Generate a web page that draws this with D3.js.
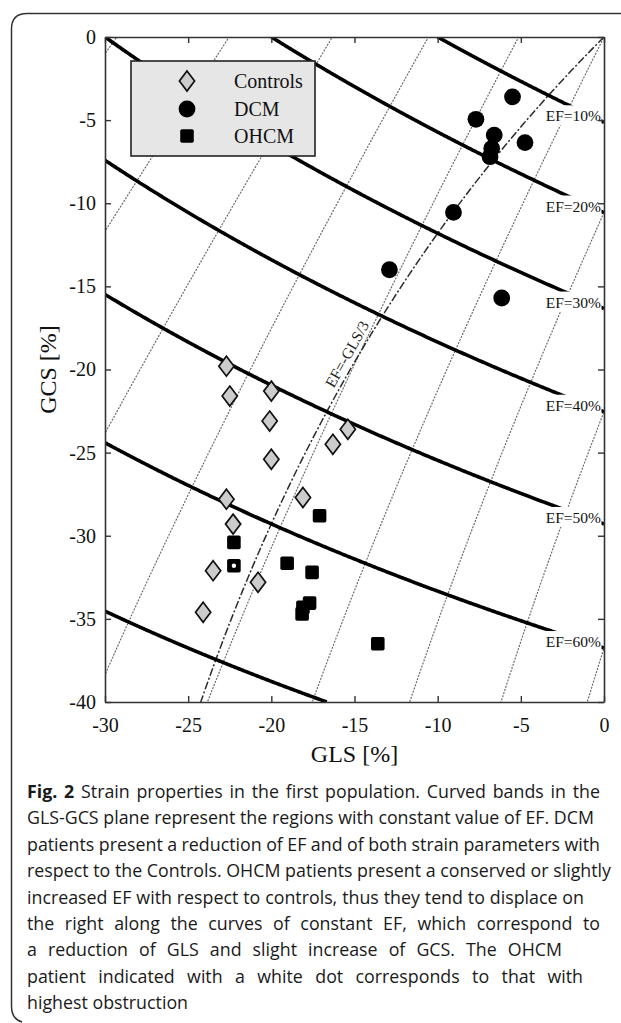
<!DOCTYPE html>
<html><head><meta charset="utf-8">
<script src="https://cdn.jsdelivr.net/npm/d3@7"></script>
<style>body{margin:0;background:#fff}svg{display:block}</style>
</head><body>
<svg id="c" width="621" height="1023"></svg>
<script>
// ---------------- data ----------------
const glsTicks = [-30, -25, -20, -15, -10, -5, 0];
const gcsTicks = [0, -5, -10, -15, -20, -25, -30, -35, -40];
const efLevels = [10, 20, 30, 40, 50, 60, 70];           // EF iso-curves (%)
const efLabelled = [10, 20, 30, 40, 50, 60];
const orthoLevels = [0, -0.2, -0.4, -0.6, -0.8, -1.0, -1.2, -1.4, -1.6]; // (1+GCS)^2-2(1+GLS)^2
const refLineFactor = 3;                                  // EF = -3*GLS
const refLineLabel = "EF=-GLS/3";

const controlsGLS = [-22.7, -22.5, -20.0, -20.1, -20.0, -15.4, -16.3, -22.7, -22.3, -23.5, -24.1, -20.8, -18.1];
const controlsGCS = [-19.8, -21.6, -21.3, -23.1, -25.4, -23.6, -24.5, -27.8, -29.3, -32.1, -34.6, -32.8, -27.7];

const dcmGLS = [-5.5, -7.7, -6.6, -4.75, -6.75, -6.85, -9.05, -12.9, -6.15];
const dcmGCS = [-3.6, -4.95, -5.9, -6.35, -6.7, -7.2, -10.55, -14.0, -15.7];

const ohcmGLS = [-17.1, -22.25, -22.25, -19.05, -17.55, -17.7, -18.1, -18.15, -13.6];
const ohcmGCS = [-28.8, -30.4, -31.8, -31.65, -32.2, -34.05, -34.3, -34.7, -36.5];
const ohcmWhiteDot = [0, 0, 1, 0, 0, 0, 0, 0, 0];

const legendLabels = ["Controls", "DCM", "OHCM"];
const xTitle = "GLS [%]";
const yTitle = "GCS [%]";

const captionBold = "Fig. 2";
const captionLines = [
  " Strain properties in the first population. Curved bands in the",
  "GLS-GCS plane represent the regions with constant value of EF. DCM",
  "patients present a reduction of EF and of both strain parameters with",
  "respect to the Controls. OHCM patients present a conserved or slightly",
  "increased EF with respect to controls, thus they tend to displace on",
  "the right along the curves of constant EF, which correspond to",
  "a reduction of GLS and slight increase of GCS. The OHCM",
  "patient indicated with a white dot corresponds to that with",
  "highest obstruction"
];

// ---------------- layout ----------------
const svg = d3.select("#c");
const serif = '"Liberation Serif","Times New Roman",serif';
const sans = '"Open Sans","Noto Sans",sans-serif';
const x = d3.scaleLinear().domain([-30, 0]).range([105, 604]);
const y = d3.scaleLinear().domain([0, -40]).range([37, 702]);
const line = d3.line().x(d => x(d[0])).y(d => y(d[1]));

// outer rounded frame (top + left side)
svg.append("path")
  .attr("d", "M621,13.5 H27 Q11.5,13.5 11.5,29 V1006 Q11.5,1019 22,1022")
  .attr("fill", "none").attr("stroke", "#333").attr("stroke-width", 1.5);

svg.append("defs").append("clipPath").attr("id", "plot").append("rect")
  .attr("x", x(-30)).attr("y", y(0))
  .attr("width", x(0) - x(-30)).attr("height", y(-40) - y(0));

const plot = svg.append("g").attr("clip-path", "url(#plot)");

// dotted orthogonal family
orthoLevels.forEach(K => {
  const pts = [];
  for (let i = 0; i <= 600; i++) {
    const L = -0.31 + 0.32 * i / 600;
    const v = K + 2 * (1 + L) * (1 + L);
    if (v < 0) continue;
    pts.push([L * 100, (Math.sqrt(v) - 1) * 100]);
  }
  plot.append("path").attr("d", line(pts)).attr("fill", "none")
    .attr("stroke", "#666").attr("stroke-width", 1.15)
    .attr("stroke-dasharray", "2,1.3");
});

// dash-dot reference line EF = -3 GLS
const refPts = [];
for (let i = 0; i <= 300; i++) {
  const C = -0.41 * i / 300;
  const s = (1 + C) * (1 + C);
  const L = (s - 1) / (refLineFactor - s);
  refPts.push([L * 100, C * 100]);
}
plot.append("path").attr("d", line(refPts)).attr("fill", "none")
  .attr("stroke", "#2a2a2a").attr("stroke-width", 1.5)
  .attr("stroke-dasharray", "8,2.2,2,2.2");

// EF iso-curves
efLevels.forEach(e => {
  const f = 1 - e / 100;
  const L0 = Math.max(-0.3, -e / 100);
  const L1 = Math.min(0, f / 0.36 - 1);
  const pts = [];
  for (let i = 0; i <= 300; i++) {
    const L = L0 + (L1 - L0) * i / 300;
    pts.push([L * 100, (Math.sqrt(f / (1 + L)) - 1) * 100]);
  }
  plot.append("path").attr("d", line(pts)).attr("fill", "none")
    .attr("stroke", "#000").attr("stroke-width", 3.6);
});

// EF labels with white background
const labG = svg.append("g");
efLabelled.forEach(e => {
  const f = 1 - e / 100;
  const C0 = (Math.sqrt(f) - 1) * 100;
  const g = labG.append("g");
  const t = g.append("text").attr("x", x(0) - 3).attr("y", y(C0) - 1)
    .attr("text-anchor", "end").attr("font-family", serif).attr("font-size", 15.5)
    .attr("fill", "#111").text("EF=" + e + "%");
  const b = t.node().getBBox();
  g.insert("rect", "text").attr("x", b.x - 3).attr("y", b.y - 2)
    .attr("width", x(0) - 2.5 - (b.x - 3)).attr("height", b.height + 3)
    .attr("fill", "#fff");
});

// reference line label
{
  const Ca = -0.213, s = (1 + Ca) * (1 + Ca);
  const La = (s - 1) / (refLineFactor - s);
  const Cb = Ca + 0.01, sb = (1 + Cb) * (1 + Cb);
  const Lb = (sb - 1) / (refLineFactor - sb);
  const px = x(La * 100), py = y(Ca * 100);
  const ang = Math.atan2(y(Cb * 100) - py, x(Lb * 100) - px);
  const off = 5;
  const ox = px + off * Math.sin(ang), oy = py - off * Math.cos(ang);
  svg.append("text").attr("transform", `translate(${ox},${oy}) rotate(${ang * 180 / Math.PI})`)
    .attr("font-family", serif).attr("font-size", 15.5).attr("fill", "#222")
    .text(refLineLabel);
}

// markers
const diamond = "M0,-10L7.6,0L0,10L-7.6,0Z";
const mk = svg.append("g");
mk.selectAll(".ctl").data(d3.range(controlsGLS.length)).join("path")
  .attr("transform", i => `translate(${x(controlsGLS[i])},${y(controlsGCS[i])})`)
  .attr("d", diamond).attr("fill", "#cccccc").attr("stroke", "#111").attr("stroke-width", 1.7);
mk.selectAll(".dcm").data(d3.range(dcmGLS.length)).join("circle")
  .attr("cx", i => x(dcmGLS[i])).attr("cy", i => y(dcmGCS[i])).attr("r", 8.4).attr("fill", "#000");
mk.selectAll(".oh").data(d3.range(ohcmGLS.length)).join("rect")
  .attr("x", i => x(ohcmGLS[i]) - 6.8).attr("y", i => y(ohcmGCS[i]) - 6.8)
  .attr("width", 13.6).attr("height", 13.6).attr("rx", 1.8).attr("fill", "#000");
mk.selectAll(".wd").data(d3.range(ohcmGLS.length).filter(i => ohcmWhiteDot[i])).join("circle")
  .attr("cx", i => x(ohcmGLS[i])).attr("cy", i => y(ohcmGCS[i])).attr("r", 2.2).attr("fill", "#fff");

// axes
const fmt = d => String(d);
function styleAxis(g) {
  g.selectAll("path.domain").attr("stroke", "#333").attr("stroke-width", 1.6);
  g.selectAll(".tick line").attr("stroke", "#333").attr("stroke-width", 1.4);
  g.selectAll(".tick text").attr("font-family", serif).attr("font-size", 20).attr("fill", "#111");
}
svg.append("g").attr("transform", `translate(0,${y(-40)})`)
  .call(d3.axisBottom(x).tickValues(glsTicks).tickFormat(fmt).tickSize(-6).tickSizeOuter(0).tickPadding(16))
  .call(styleAxis);
svg.append("g").attr("transform", `translate(0,${y(0)})`)
  .call(d3.axisTop(x).tickValues(glsTicks).tickFormat("").tickSize(-6).tickSizeOuter(0))
  .call(styleAxis);
svg.append("g").attr("transform", `translate(${x(-30)},0)`)
  .call(d3.axisLeft(y).tickValues(gcsTicks).tickFormat(fmt).tickSize(-6).tickSizeOuter(0).tickPadding(9))
  .call(styleAxis);
svg.append("g").attr("transform", `translate(${x(0)},0)`)
  .call(d3.axisRight(y).tickValues(gcsTicks).tickFormat("").tickSize(-6).tickSizeOuter(0))
  .call(styleAxis);

// axis titles
svg.append("text").attr("x", (x(-30) + x(0)) / 2).attr("y", y(-40) + 60)
  .attr("text-anchor", "middle").attr("font-family", serif).attr("font-size", 24)
  .attr("fill", "#111").text(xTitle);
svg.append("text").attr("transform", `translate(56,${(y(0) + y(-40)) / 2}) rotate(-90)`)
  .attr("text-anchor", "middle").attr("font-family", serif).attr("font-size", 24)
  .attr("fill", "#111").text(yTitle);

// legend
const lg = svg.append("g").attr("transform", "translate(131,61)");
lg.append("rect").attr("width", 184).attr("height", 95)
  .attr("fill", "#e6e6e6").attr("stroke", "#222").attr("stroke-width", 1.6);
const rowY = [20, 48, 75];
lg.append("path").attr("transform", `translate(56,${rowY[0]})`).attr("d", diamond)
  .attr("fill", "#cccccc").attr("stroke", "#111").attr("stroke-width", 1.7);
lg.append("circle").attr("cx", 56).attr("cy", rowY[1]).attr("r", 8.4).attr("fill", "#000");
lg.append("rect").attr("x", 56 - 6.8).attr("y", rowY[2] - 6.8).attr("width", 13.6).attr("height", 13.6)
  .attr("rx", 1.8).attr("fill", "#000");
legendLabels.forEach((t, i) => {
  lg.append("text").attr("x", 103).attr("y", rowY[i] + 7).attr("font-family", serif)
    .attr("font-size", 20).attr("fill", "#111").text(t);
});

// caption
const capX = 27, capBase = 798, capLH = 26.4;
const capEnds = [600, 594, 600, 611, 584, 600, 562, 583, null];
const cap = svg.append("g").attr("font-family", sans).attr("fill", "#1a1a1a");
// determine font size from the tightest line
const probe = cap.append("text").attr("font-size", 17).text(captionLines[3]);
const natural = probe.node().getComputedTextLength();
probe.remove();
const capFS = 17 * (capEnds[3] - capX) / natural;
cap.attr("font-size", capFS);
captionLines.forEach((ln, i) => {
  const t = cap.append("text").attr("x", capX).attr("y", capBase + i * capLH);
  if (i === 0) t.append("tspan").attr("font-weight", "bold").text(captionBold);
  t.append("tspan").text(ln);
  if (capEnds[i]) {
    const w = t.node().getComputedTextLength();
    const full = (i === 0 ? captionBold : "") + ln;
    const nsp = (full.match(/ /g) || []).length;
    if (nsp > 0) t.attr("word-spacing", ((capEnds[i] - capX) - w) / nsp);
  }
});
</script>
</body></html>
